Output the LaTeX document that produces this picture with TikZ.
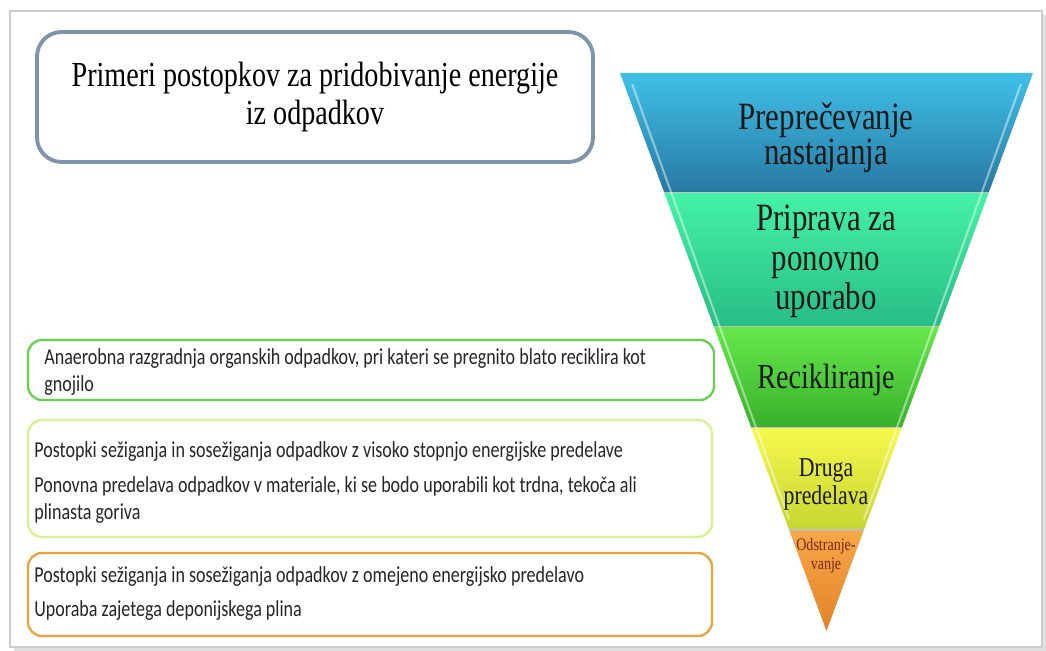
\documentclass[tikz,border=0pt]{standalone}
\usepackage{fontspec}
\setmainfont{Liberation Serif}
\newfontfamily\titlefont[FakeStretch=0.8]{Liberation Serif}
\newfontfamily\itemfont[FakeStretch=0.79]{Carlito}
\usetikzlibrary{calc,shadows}

\definecolor{frame_gray}{HTML}{CDCDCD}
\definecolor{title_border}{HTML}{7E93AE}
\definecolor{blue_top}{HTML}{40C0E8}
\definecolor{blue_bot}{HTML}{2878A2}
\definecolor{teal_top}{HTML}{45F2A6}
\definecolor{teal_bot}{HTML}{28BC86}
\definecolor{green_top}{HTML}{66E84C}
\definecolor{green_bot}{HTML}{38B02A}
\definecolor{yellow_top}{HTML}{F6F84C}
\definecolor{yellow_bot}{HTML}{C6D632}
\definecolor{orange_top}{HTML}{F6A848}
\definecolor{orange_bot}{HTML}{E4822A}
\definecolor{box_green}{HTML}{62D24C}
\definecolor{box_lime}{HTML}{D2F48C}
\definecolor{box_orange}{HTML}{EDA238}
\definecolor{disposal_red}{HTML}{7A2A14}

\begin{document}
\begin{tikzpicture}[x=0.02cm, y=0.02cm]
    \tikzstyle{item_box}=[rectangle, rounded corners=8pt, line width=1.3pt, fill=white]
    \tikzstyle{item_text}=[anchor=base west, inner sep=0pt, font=\itemfont\fontsize{13}{15}\selectfont, text=black!85]
    \tikzstyle{band_text}=[anchor=base, inner sep=0pt, align=center, text=black!90]

    \useasboundingbox (0, 0) rectangle (1046, -651);

    % frame
    \draw[frame_gray, line width=0.8pt, fill=white, drop shadow={shadow xshift=2pt, shadow yshift=-2pt, opacity=0.25}]
      (10, -11) rectangle (1042, -647);

    % title
    \node at (315, -97) [rectangle, rounded corners=14pt, draw=title_border, line width=2.2pt,
      minimum width=556*0.02cm, minimum height=130*0.02cm, align=center,
      font=\titlefont\fontsize{20}{22}\selectfont] (title) {
      Primeri postopkov za pridobivanje energije\\iz odpadkov
    };

    % pyramid bands
    \coordinate (top_l) at (620, -73);
    \coordinate (top_r) at (1033, -73);
    \coordinate (apex) at (826.5, -631);
    \foreach \ta/\tb/\col in {0/0.215/blue, 0.215/0.455/teal, 0.455/0.636/green, 0.636/0.819/yellow, 0.819/1/orange}
      \path[top color=\col_top, bottom color=\col_bot]
        ($(top_l)!\ta!(apex)$) -- ($(top_r)!\ta!(apex)$) -- ($(top_r)!\tb!(apex)$) -- ($(top_l)!\tb!(apex)$) -- cycle;
    \foreach \t in {0.215,0.455,0.636,0.819}
      \draw[black!25, line width=0.6pt] ($(top_l)!\t!(apex)$) -- ($(top_r)!\t!(apex)$);
    % light edges
    \draw[white, opacity=0.45, line width=1.2pt] ($(top_l)!0.02!(apex) + (8, 0)$) -- ($(top_l)!0.8!(apex) + (4, 0)$);
    \draw[white, opacity=0.45, line width=1.2pt] ($(top_r)!0.02!(apex) + (-8, 0)$) -- ($(top_r)!0.8!(apex) + (-4, 0)$);

    % pyramid labels (anchored at the baseline of the last line)
    \node at (826, -165) [band_text, font=\titlefont\fontsize{22}{18}\selectfont] (prevent) {Preprečevanje\\nastajanja};
    \node at (826, -310) [band_text, font=\titlefont\fontsize{22}{22.5}\selectfont] (reuse) {Priprava za\\ponovno\\uporabo};
    \node at (826, -389) [band_text, font=\titlefont\fontsize{20}{24}\selectfont] (recycle) {Recikliranje};
    \node at (826, -505) [band_text, font=\titlefont\fontsize{15.5}{16.5}\selectfont] (recovery) {Druga\\predelava};
    \node at (826, -570) [band_text, text=disposal_red, font=\titlefont\fontsize{10}{11}\selectfont] (disposal) {Odstranje-\\vanje};

    % item boxes
    \node at (371, -370) [item_box, draw=box_green, minimum width=686*0.02cm, minimum height=60*0.02cm] (box_anaerob) {};
    \node at (370, -478.5) [item_box, draw=box_lime, minimum width=684*0.02cm, minimum height=117*0.02cm] (box_high) {};
    \node at (370, -594.5) [item_box, draw=box_orange, minimum width=684*0.02cm, minimum height=83*0.02cm] (box_low) {};

    % item texts
    \foreach \y/\t [count=\i] in {-365/{Anaerobna razgradnja organskih odpadkov, pri kateri se pregnito blato reciklira kot}, -392/{gnojilo}}
      \node at (44, \y) [item_text] (anaerob_\i) {\t};
    \foreach \y/\t [count=\i] in {-458/{Postopki sežiganja in sosežiganja odpadkov z visoko stopnjo energijske predelave}, -493/{Ponovna predelava odpadkov v materiale, ki se bodo uporabili kot trdna, tekoča ali}, -520/{plinasta goriva}}
      \node at (34, \y) [item_text] (high_\i) {\t};
    \foreach \y/\t [count=\i] in {-583/{Postopki sežiganja in sosežiganja odpadkov z omejeno energijsko predelavo}, -617/{Uporaba zajetega deponijskega plina}}
      \node at (34, \y) [item_text] (low_\i) {\t};

\end{tikzpicture}
\end{document}
